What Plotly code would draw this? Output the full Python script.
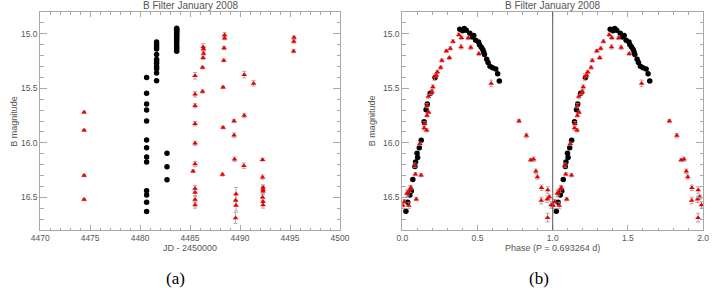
import plotly.graph_objects as go

# ---------------- Panel (a): magnitude vs JD ----------------
jd_black = ([4480.65] * 13 + [4481.65] * 12 + [4483.66] * 15 + [4482.69] * 3)
mag_black = [15.40, 15.545, 15.645, 15.70, 15.80, 15.975, 16.045, 16.13, 16.175, 16.44, 16.48, 16.545, 16.63,
             15.075, 15.10, 15.12, 15.14, 15.19, 15.235, 15.25, 15.27, 15.30, 15.32, 15.36, 15.43,
             14.95, 14.96, 14.97, 14.98, 14.99, 15.00, 15.015, 15.03, 15.045, 15.06, 15.08, 15.10, 15.12, 15.14, 15.16,
             16.095, 16.22, 16.34]

jd_red = [4474.4, 4474.4, 4474.4, 4474.4,
          4485.5, 4485.5, 4485.5, 4485.5, 4485.5, 4485.5, 4485.3, 4485.5, 4485.5, 4485.5, 4485.5,
          4486.3, 4486.35, 4486.35, 4486.3, 4486.25, 4486.25,
          4488.45, 4488.45, 4488.4, 4488.37, 4488.3, 4488.3, 4488.24,
          4489.4, 4489.4, 4489.45, 4489.6, 4489.55, 4489.6, 4489.55,
          4490.42, 4490.42, 4490.38,
          4491.35,
          4492.25, 4492.25, 4492.3, 4492.3, 4492.3, 4492.25, 4492.3, 4492.3,
          4495.4, 4495.38, 4495.36]
mag_red = [15.72, 15.885, 16.30, 16.52,
           15.385, 15.555, 15.66, 15.825, 16.005, 16.195, 16.26, 16.42, 16.455, 16.52, 16.57,
           15.12, 15.14, 15.18, 15.22, 15.31, 15.53,
           15.01, 15.04, 15.13, 15.245, 15.49, 15.86, 16.29,
           15.80, 15.93, 16.15, 16.47, 16.53, 16.575, 16.69,
           15.375, 15.75, 16.21,
           15.455,
           16.155, 16.315, 16.41, 16.43, 16.445, 16.50, 16.54, 16.57,
           15.035, 15.07, 15.16]
err_red = [0.01, 0.01, 0.012, 0.012,
           0.03, 0.025, 0.02, 0.02, 0.02, 0.025, 0.012, 0.03, 0.03, 0.03, 0.03,
           0.03, 0.02, 0.015, 0.015, 0.012, 0.015,
           0.02, 0.015, 0.015, 0.012, 0.012, 0.012, 0.015,
           0.015, 0.02, 0.02, 0.06, 0.05, 0.05, 0.05,
           0.03, 0.02, 0.025,
           0.025,
           0.012, 0.02, 0.025, 0.03, 0.03, 0.03, 0.03, 0.03,
           0.015, 0.015, 0.015]

# ---------------- Panel (b): magnitude vs phase ----------------
phase_black = [0.024, 0.036, 0.05, 0.06, 0.07, 0.084, 0.088, 0.102, 0.098, 0.113, 0.126, 0.145, 0.158, 0.166,
               0.186, 0.218,
               0.382, 0.40, 0.412, 0.425, 0.449, 0.465, 0.475, 0.488, 0.507, 0.513, 0.524, 0.535, 0.541, 0.546,
               0.561, 0.57, 0.583, 0.60, 0.621, 0.634, 0.645]
pmag_black = [16.627, 16.545, 16.48, 16.443, 16.337, 16.218, 16.176, 16.135, 16.097, 16.045, 15.976, 15.806,
              15.697, 15.643, 15.545, 15.40,
              14.958, 14.972, 14.952, 14.968, 14.996, 15.03, 15.015, 15.06, 15.076, 15.10, 15.12, 15.145,
              15.167, 15.19, 15.234, 15.264, 15.297, 15.312, 15.324, 15.367, 15.434]

phase_red = [0.004, 0.013, 0.03, 0.037, 0.043, 0.052, 0.057, 0.083, 0.087, 0.093, 0.117, 0.125, 0.145, 0.148,
             0.162, 0.164, 0.164, 0.173, 0.175, 0.193, 0.197, 0.203, 0.214, 0.226, 0.233, 0.255, 0.263, 0.293,
             0.313, 0.319, 0.337, 0.376, 0.391, 0.393, 0.438, 0.455, 0.509, 0.591,
             0.776, 0.825, 0.854, 0.873, 0.888, 0.898, 0.925, 0.924, 0.967, 0.963, 0.978, 0.989, 0.966]
pmag_red = [16.575, 16.54, 16.465, 16.455, 16.575, 16.425, 16.41, 16.205, 16.288, 16.517, 16.009, 16.297,
            15.864, 15.825, 15.885, 15.749, 15.66, 15.576, 15.72, 15.54, 15.53, 15.488, 15.397, 15.38, 15.35,
            15.31, 15.245, 15.158, 15.22, 15.134, 15.07, 15.008, 15.12, 15.036, 15.038, 15.125, 15.183, 15.455,
            15.80, 15.934, 16.157, 16.15, 16.261, 16.314, 16.413, 16.53, 16.433, 16.518, 16.498, 16.57, 16.687]
perr_red = [0.03, 0.02, 0.03, 0.03, 0.03, 0.03, 0.02, 0.02, 0.015, 0.015, 0.015, 0.015, 0.02, 0.02,
            0.015, 0.015, 0.02, 0.02, 0.012, 0.02, 0.02, 0.02, 0.03, 0.02, 0.015, 0.015, 0.015, 0.015,
            0.015, 0.015, 0.015, 0.015, 0.02, 0.015, 0.015, 0.02, 0.015, 0.03,
            0.015, 0.02, 0.012, 0.02, 0.02, 0.02, 0.025, 0.03, 0.03, 0.03, 0.02, 0.03, 0.04]

period_label = "Phase (P = 0.693264 d)"
title_text = "B Filter January 2008"

W, H = 718, 288
def px(x):
    return x / W
def py(y):
    return 1 - y / H

FONT = "Liberation Sans, Arial, sans-serif"
AX = "#a8a8a8"
TXT = "#555555"

fig = go.Figure()

black_marker = dict(symbol="circle", size=5.5, color="black", line=dict(width=0))
red_marker = dict(symbol="triangle-up", size=5, color="#ee0000", line=dict(width=0))
err_style = dict(type="data", color="#9a9a9a", thickness=0.8, width=2)

fig.add_trace(go.Scatter(x=jd_black, y=mag_black, mode="markers", marker=black_marker,
                         xaxis="x", yaxis="y", showlegend=False))
fig.add_trace(go.Scatter(x=jd_red, y=mag_red, mode="markers", marker=red_marker,
                         error_y=dict(array=err_red, **err_style),
                         xaxis="x", yaxis="y", showlegend=False))

ph_b2 = phase_black + [p + 1 for p in phase_black]
mg_b2 = pmag_black + pmag_black
ph_r2 = phase_red + [p + 1 for p in phase_red]
mg_r2 = pmag_red + pmag_red
er_r2 = perr_red + perr_red

fig.add_trace(go.Scatter(x=ph_b2, y=mg_b2, mode="markers", marker=black_marker,
                         xaxis="x2", yaxis="y2", showlegend=False))
fig.add_trace(go.Scatter(x=ph_r2, y=mg_r2, mode="markers", marker=red_marker,
                         error_y=dict(array=er_r2, **err_style),
                         xaxis="x2", yaxis="y2", showlegend=False))

common = dict(showline=True, linecolor=AX, linewidth=1, mirror="ticks", ticks="inside",
              tickcolor=AX, tickwidth=1, showgrid=False, zeroline=False,
              tickfont=dict(family=FONT, size=8.5, color=TXT))

ydom = [py(230), py(12)]
yax = dict(range=[16.8, 14.8], tick0=15.0, dtick=0.5, tickformat=".1f", ticklen=7,
           minor=dict(ticks="inside", ticklen=3.5, dtick=0.1, tickcolor=AX, showgrid=False),
           domain=ydom, **common)

fig.update_layout(
    width=W, height=H,
    margin=dict(l=0, r=0, t=0, b=0),
    paper_bgcolor="white", plot_bgcolor="white",
    xaxis=dict(range=[4470, 4500], tick0=4470, dtick=5, tickformat="d", ticklen=5,
               minor=dict(ticks="inside", ticklen=2.5, dtick=1, tickcolor=AX, showgrid=False),
               domain=[px(32), px(340)], anchor="y", **common),
    yaxis=dict(anchor="x", **yax),
    xaxis2=dict(range=[0, 2], tick0=0, dtick=0.5, tickformat=".1f", ticklen=5,
                minor=dict(ticks="inside", ticklen=2.5, dtick=0.1, tickcolor=AX, showgrid=False),
                domain=[px(404), px(713)], anchor="y2", **common),
    yaxis2=dict(anchor="x2", **yax),
    shapes=[dict(type="line", xref="x2", yref="y2 domain", x0=1, x1=1, y0=0, y1=1,
                 line=dict(color="#555555", width=1))],
)

ann = []
for cx in (186, 558.5):
    ann.append(dict(text=title_text, x=px(cx), y=py(5), xref="paper", yref="paper",
                    showarrow=False, xanchor="center", yanchor="middle",
                    font=dict(family=FONT, size=10, color=TXT)))
ann.append(dict(text="JD - 2450000", x=px(186), y=py(248), xref="paper", yref="paper",
                showarrow=False, xanchor="center", yanchor="middle",
                font=dict(family=FONT, size=9, color=TXT)))
ann.append(dict(text=period_label, x=px(558.5), y=py(248), xref="paper", yref="paper",
                showarrow=False, xanchor="center", yanchor="middle",
                font=dict(family=FONT, size=9, color=TXT)))
for cx in (5, 373):
    ann.append(dict(text="B magnitude", x=px(cx), y=py(121), xref="paper", yref="paper",
                    showarrow=False, xanchor="center", yanchor="middle", textangle=-90,
                    font=dict(family=FONT, size=9, color=TXT)))
ann.append(dict(text="(a)", x=px(171), y=py(278), xref="paper", yref="paper",
                showarrow=False, xanchor="center", yanchor="middle",
                font=dict(family="Liberation Serif, DejaVu Serif, serif", size=17, color="black")))
ann.append(dict(text="(b)", x=px(544), y=py(278), xref="paper", yref="paper",
                showarrow=False, xanchor="center", yanchor="middle",
                font=dict(family="Liberation Serif, DejaVu Serif, serif", size=17, color="black")))
fig.update_layout(annotations=ann)

fig.write_html("out.html",
               config={"displayModeBar": False},
               post_script="document.body.style.margin='0';document.body.style.overflow='hidden';")
